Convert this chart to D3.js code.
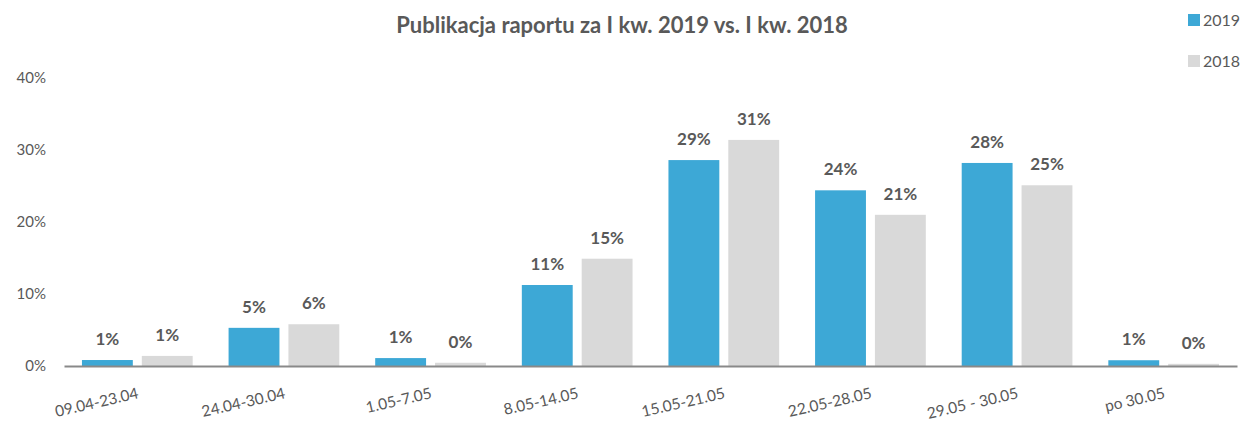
<!DOCTYPE html>
<html><head><meta charset="utf-8">
<script src="https://cdnjs.cloudflare.com/ajax/libs/d3/7.8.5/d3.min.js"></script>
<style>body{margin:0;background:#fff}svg{display:block}text{font-family:Lato,"Open Sans",sans-serif}</style>
</head><body><svg id="c" width="1244" height="423"></svg>
<script>
const categories = ["09.04-23.04","24.04-30.04","1.05-7.05","8.05-14.05","15.05-21.05","22.05-28.05","29.05 - 30.05","po 30.05"];
const series2019 = [0.0083,0.053,0.011,0.1125,0.286,0.244,0.282,0.008];
const series2018 = [0.014,0.058,0.0045,0.149,0.314,0.21,0.251,0.003];
const seriesNames = ["2019","2018"];
const yTicks = [0,0.1,0.2,0.3,0.4];
const colors = ["#3DA8D6","#D9D9D9"];
const textColor = "#595959";

const svg = d3.select("#c");
const x0 = d3.scaleBand().domain(categories).range([64,1237]);
const x1 = d3.scaleBand().domain(seriesNames).range([0,x0.bandwidth()]).paddingInner(0.15).paddingOuter(0.3);
const y = d3.scaleLinear().domain([0,0.4]).range([366,78]);
const fmt = d3.format(".0%");

svg.append("text").attr("x",622).attr("y",33).attr("text-anchor","middle")
  .attr("font-size",22).attr("font-weight","bold").attr("fill",textColor)
  .text("Publikacja raportu za I kw. 2019 vs. I kw. 2018");

// y axis labels
const ya = svg.append("g").attr("transform","translate(46,0)")
  .call(d3.axisLeft(y).tickValues(yTicks).tickFormat(fmt).tickSize(0).tickPadding(0));
ya.select(".domain").remove();
ya.selectAll("text").attr("font-size",15).attr("fill",textColor).style("font-family","Lato,'Open Sans',sans-serif");

const data = categories.map((c,i)=>({c, vals:[series2019[i],series2018[i]]}));
const g = svg.append("g").selectAll("g").data(data).join("g")
  .attr("transform",d=>`translate(${x0(d.c)},0)`);
g.selectAll("rect").data(d=>d.vals.map((v,j)=>({v,s:seriesNames[j],j}))).join("rect")
  .attr("x",d=>x1(d.s)).attr("width",x1.bandwidth())
  .attr("y",d=>y(d.v)).attr("height",d=>y(0)-y(d.v)).attr("fill",d=>colors[d.j]);
g.selectAll("text.v").data(d=>d.vals.map((v,j)=>({v,s:seriesNames[j],j}))).join("text")
  .attr("class","v").attr("x",d=>x1(d.s)+x1.bandwidth()/2).attr("y",d=>y(d.v)-15)
  .attr("text-anchor","middle").attr("font-size",17).attr("font-weight","bold").attr("fill",textColor)
  .text(d=>fmt(d.v));

// x axis
const xa = svg.append("g").attr("transform","translate(0,366)")
  .call(d3.axisBottom(x0).tickSize(0).tickPadding(0));
xa.select(".domain").attr("stroke","#898989").attr("stroke-width",2);
xa.selectAll("text").attr("font-size",15.5).attr("fill",textColor)
  .style("font-family","Lato,'Open Sans',sans-serif")
  .attr("text-anchor","end").attr("dy",null)
  .attr("transform","translate(2,32) rotate(-13)");

// legend
const lg = svg.append("g").selectAll("g").data(seriesNames).join("g")
  .attr("transform",(d,i)=>`translate(1188,${14+i*41})`);
lg.append("rect").attr("width",12).attr("height",12).attr("fill",(d,i)=>colors[i]);
lg.append("text").attr("x",15).attr("y",12).attr("font-size",16).attr("fill",textColor).text(d=>d);
</script></body></html>
